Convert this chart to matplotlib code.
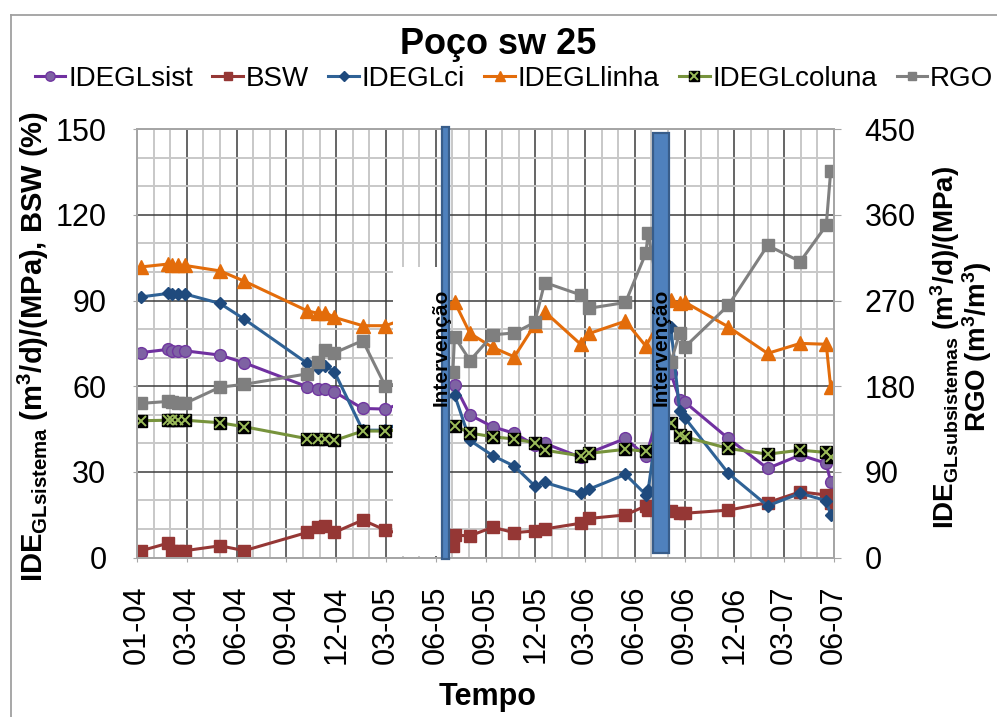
import matplotlib
matplotlib.use("Agg")
import matplotlib.pyplot as plt
import matplotlib.dates as mdates
from matplotlib.patches import Rectangle
from matplotlib.lines import Line2D
from matplotlib.ticker import FixedLocator, MultipleLocator
import numpy as np
import pandas as pd

plt.rcParams["font.family"] = ["Liberation Sans", "DejaVu Sans"]
plt.rcParams["mathtext.fontset"] = "custom"
plt.rcParams["mathtext.rm"] = "Liberation Sans"
plt.rcParams["mathtext.bf"] = "Liberation Sans:bold"
plt.rcParams["mathtext.it"] = "Liberation Sans:italic"

# ---- measurement dates (well sw 25) ----
dates = [
    "2004-01-09", "2004-02-26", "2004-03-04", "2004-03-16", "2004-03-28",
    "2004-05-30", "2004-07-13", "2004-11-04", "2004-11-24", "2004-12-06",
    "2004-12-23", "2005-02-12", "2005-03-25",
    "2005-07-25", "2005-07-28", "2005-08-25", "2005-10-05", "2005-11-13",
    "2005-12-20", "2006-01-07", "2006-03-13", "2006-03-29", "2006-06-02",
    "2006-07-09", "2006-07-13",
    "2006-08-23", "2006-09-08", "2006-09-17", "2006-12-05", "2007-02-14",
    "2007-04-14", "2007-05-31", "2007-06-08",
]
N = None
ide_sist = [71.8, 72.9, 72.5, 72.4, 72.4, 70.9, 68.2, 59.8, 59.1, 59.1, 58.0, 52.2, 52.0,
            N, 60.5, 49.9, 45.8, 43.5, 39.4, 40.0, 35.1, 36.7, 41.7, 35.5, N,
            64.5, 55.3, 54.5, 41.7, 31.2, 35.9, 33.0, 26.5]
bsw = [2.4, 5.0, 2.4, 2.4, 2.4, 4.1, 2.4, 8.8, 10.8, 11.0, 8.8, 13.1, 9.6,
       4.0, 7.8, 7.6, 10.6, 8.7, 9.3, 10.0, 12.0, 13.7, 14.9, 18.1, 16.6,
       16.4, 15.6, 15.5, 16.6, 19.2, 23.0, 21.9, 19.0]
ide_ci = [91.3, 92.5, 92.3, 92.3, 92.3, 89.0, 83.5, 68.0, 66.5, 67.2, 65.0, 44.6, 44.6,
          N, 57.0, 41.0, 35.7, 32.0, 25.1, 26.3, 22.5, 24.0, 29.1, 22.0, 23.5,
          80.8, 51.2, 49.0, 29.5, 18.1, 22.5, 19.9, 14.9]
ide_linha = [101.8, 102.8, 102.5, 102.3, 102.3, 100.4, 96.8, 86.4, 85.5, 85.8, 84.1, 81.2, 81.2,
             N, 89.6, 78.5, 73.6, 70.3, 81.5, 86.1, 74.7, 78.5, 82.8, 74.0, N,
             90.2, 89.1, 89.5, 80.8, 71.5, 75.0, 74.7, 59.6]
ide_coluna = [47.9, 48.1, 48.1, 48.1, 48.1, 47.2, 45.8, 41.6, 41.4, 41.4, 41.0, 44.3, 44.3,
              N, 46.2, 43.6, 42.3, 41.5, 40.2, 37.6, 35.6, 36.5, 37.9, 37.2, N,
              47.0, 42.9, 42.3, 38.2, 36.2, 37.6, 36.8, 35.1]
rgo = [162, 164, 163, 162, 162, 179, 182, 193, 205, 218, 215, 228, 180,
       195, 232, 207, 234, 236, 247, 289, 276, 262, 268, 320, 341,
       205, 236, 221, 265, 328, 311, 349, 406]

# interventions: bar extent (dates) and label position
interv_start = ["2005-07-05", "2006-07-21"]
interv_end = ["2005-07-18", "2006-08-20"]
interv_label_date = ["2005-07-03", "2006-08-06"]
interv_label = "Intervenção"

xtick_start = "2004-01-01"
n_xticks = 15

df = pd.DataFrame({
    "IDEGLsist": ide_sist, "BSW": bsw, "IDEGLci": ide_ci,
    "IDEGLlinha": ide_linha, "IDEGLcoluna": ide_coluna, "RGO": rgo,
}, index=pd.to_datetime(dates), dtype=float)


def col(name):
    s = df[name].dropna()
    return s.index, s.values


W, H = 997, 717
fig = plt.figure(figsize=(W / 100, H / 100), dpi=100)
L, R, T, B = 137, 834, 129.3, 557.5
ax = fig.add_axes([L / W, 1 - B / H, (R - L) / W, (B - T) / H])
ax2 = ax.twinx()

lw = 2.2
h_sist, = ax.plot(*col("IDEGLsist"), color="#7030A0", lw=lw, marker="o", ms=8.5,
                  mfc="#7E62A3", mec="#7036A0", zorder=2)
h_bsw, = ax.plot(*col("BSW"), color="#953735", lw=lw, marker="s", ms=8,
                 mfc="#953735", mec="#953735", zorder=2.01)
h_ci, = ax.plot(*col("IDEGLci"), color="#2F6296", lw=lw, marker="D", ms=6,
                mfc="#1F4A7D", mec="#1F4A7D", zorder=2.02)
h_lin, = ax.plot(*col("IDEGLlinha"), color="#E36C0A", lw=lw, marker="^", ms=9.5,
                 mfc="#E36C0A", mec="#E36C0A", zorder=2.03)
h_col, = ax.plot(*col("IDEGLcoluna"), color="#77933C", lw=lw, marker="s", ms=8.5,
                 mfc="black", mec="black", zorder=2.04)
h_colx, = ax.plot(*col("IDEGLcoluna"), ls="none", marker="x", ms=6.5, mew=1.4,
                  color="#9BBB59", zorder=2.05)
h_rgo, = ax2.plot(*col("RGO"), color="#808080", lw=lw, marker="s", ms=8,
                  mfc="#7F7F7F", mec="#7F7F7F", zorder=2)

# axes ranges and grid
ticks = pd.date_range(xtick_start, periods=n_xticks, freq="90D")
minor = pd.date_range(ticks[0], ticks[-1], freq="30D")
ax.set_xlim(ticks[0], ticks[-1])
ax.xaxis.set_major_locator(FixedLocator(mdates.date2num(ticks)))
ax.xaxis.set_minor_locator(FixedLocator(mdates.date2num(minor)))
ax.xaxis.set_major_formatter(mdates.DateFormatter("%m-%y"))
ax.set_ylim(0, 150)
ax.yaxis.set_major_locator(MultipleLocator(30))
ax.yaxis.set_minor_locator(MultipleLocator(10))
ax2.set_ylim(0, 450)
ax2.yaxis.set_major_locator(MultipleLocator(90))

ax.set_axisbelow(True)
ax.grid(which="minor", color="#c8c8c8", lw=1.4)
ax.grid(which="major", color="#3c3c3c", lw=1.1)

for a in (ax, ax2):
    for sp in a.spines.values():
        sp.set_color("#a6a6a6")
        sp.set_linewidth(1.3)

ax.tick_params(axis="x", which="major", labelsize=22, rotation=90, length=3,
               color="#a6a6a6", pad=17)
ax.tick_params(axis="x", which="minor", length=0)
ax.tick_params(axis="y", which="major", labelsize=22, length=3, color="#a6a6a6", pad=19)
ax.tick_params(axis="y", which="minor", length=0)
ax2.tick_params(axis="y", labelsize=22, length=5, color="#a6a6a6", pad=17)

# intervention markers
xt = ax2.get_xaxis_transform()
box_left = mdates.date2num(pd.Timestamp("2005-04-08"))
box_right = mdates.date2num(pd.Timestamp(interv_start[0]))
ax2.add_patch(Rectangle((box_left, 0.004), box_right - box_left, 0.674,
                        transform=xt, facecolor="white", edgecolor="none", zorder=3))
bar_y = [(-0.004, 1.006), (0.011, 0.992)]
for s, e, (y0, y1) in zip(interv_start, interv_end, bar_y):
    x0 = mdates.date2num(pd.Timestamp(s))
    x1 = mdates.date2num(pd.Timestamp(e))
    ax2.add_patch(Rectangle((x0, y0), x1 - x0, y1 - y0, transform=xt,
                            facecolor="#4F81BD", edgecolor="#385D8A", lw=1.6,
                            zorder=4, clip_on=False))
for d in interv_label_date:
    ax2.text(mdates.date2num(pd.Timestamp(d)), 0.49, interv_label, transform=xt,
             rotation=90, ha="center", va="center", fontsize=15, fontweight="bold",
             zorder=5)

# titles and labels
fig.text(498 / W, 1 - 45 / H, "Poço sw 25", ha="center", va="center",
         fontsize=26, fontweight="bold")
fig.text(488 / W, 1 - 697 / H, "Tempo", ha="center", va="center",
         fontsize=22, fontweight="bold")
fig.text(33 / W, 1 - 346 / H,
         r"IDE$_{\mathbf{GLsistema}}$ (m$^{\mathbf{3}}$/d)/(MPa), BSW (%)",
         rotation=90, ha="center", va="center", fontsize=21, fontweight="bold")
fig.text(961 / W, 1 - 347 / H,
         "IDE$_{\\mathbf{GLsubsistemas}}$ (m$^{\\mathbf{3}}$/d)/(MPa)\n"
         "RGO (m$^{\\mathbf{3}}$/m$^{\\mathbf{3}}$)",
         rotation=90, ha="center", va="center", multialignment="center",
         fontsize=20, fontweight="bold", linespacing=0.95)

handles = [h_sist, h_bsw, h_ci, h_lin, (h_col, h_colx), h_rgo]
labels = ["IDEGLsist", "BSW", "IDEGLci", "IDEGLlinha", "IDEGLcoluna", "RGO"]
fig.legend(handles, labels, loc="center", bbox_to_anchor=(514 / W, 1 - 79 / H),
           ncol=6, frameon=False, fontsize=20, handlelength=1.1,
           handletextpad=0.1, columnspacing=0.7, borderpad=0, markerscale=0.8)

# chart-area frame
fig.add_artist(Line2D([11 / W, 11 / W], [0, 1 - 15 / H], transform=fig.transFigure,
                      color="#a0a0a0", lw=1.3))
fig.add_artist(Line2D([11 / W, 1], [1 - 15 / H, 1 - 15 / H], transform=fig.transFigure,
                      color="#a0a0a0", lw=1.3))

fig.savefig("out.png", dpi=100, facecolor="white")
